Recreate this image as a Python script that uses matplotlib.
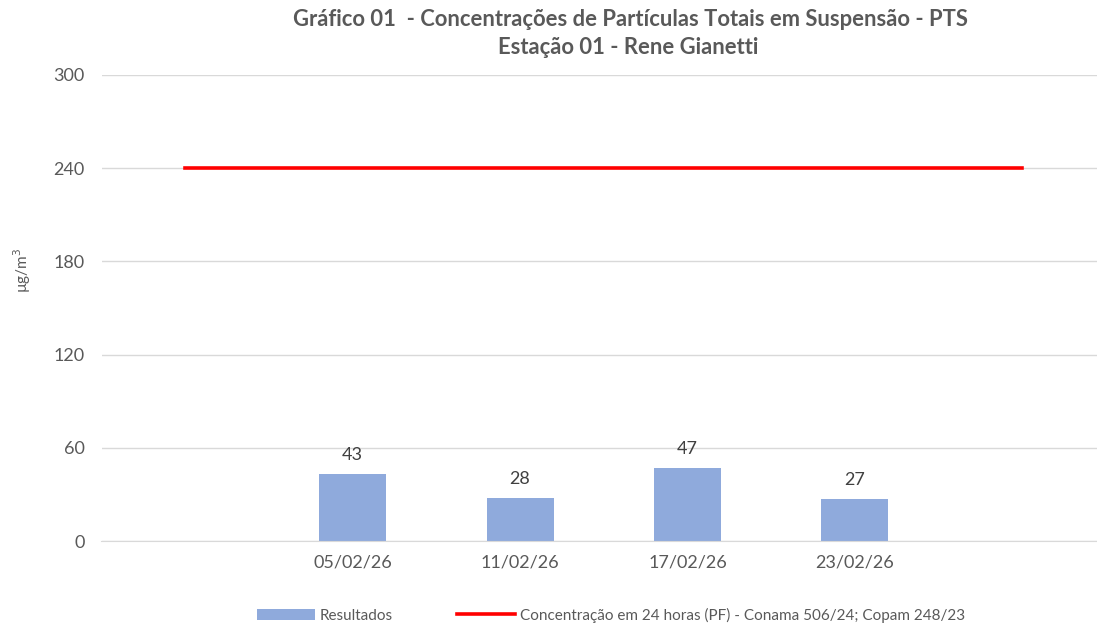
import matplotlib.pyplot as plt
import numpy as np

# data
categories = ['', '05/02/26', '11/02/26', '17/02/26', '23/02/26', '']
resultados = [np.nan, 43, 28, 47, 27, np.nan]
limite = [240, 240, 240, 240, 240, 240]

plt.rcParams['font.family'] = ['Lato', 'DejaVu Sans']
cor_texto = '#595959'

fig = plt.figure(figsize=(10.97, 6.27), dpi=100)
ax = fig.add_axes([101.5/1097, 1-541/627, (1106-101.5)/1097, 466/627])

x = np.arange(len(categories))
bars = ax.bar(x, resultados, width=0.4, color='#8FAADC', label='Resultados', zorder=2)
linha, = ax.plot(x, limite, color='#FF0000', lw=2.6, zorder=3,
                 label='Concentração em 24 horas (PF) - Conama 506/24; Copam 248/23')

for xi, v in zip(x, resultados):
    if not np.isnan(v):
        ax.text(xi, v + 7, f'{v:.0f}', ha='center', va='bottom', fontsize=13, color='#404040')

ax.set_xlim(-0.5, len(categories) - 0.5)
ax.set_ylim(0, 300)
ax.set_yticks([0, 60, 120, 180, 240, 300])
ax.set_xticks(x)
ax.set_xticklabels(categories)
ax.tick_params(length=0, labelsize=13, colors=cor_texto)
ax.tick_params(axis='x', pad=10)
ax.tick_params(axis='y', pad=12)
ax.grid(axis='y', color='#D9D9D9', lw=1, zorder=0)
for s in ['top', 'right', 'left']:
    ax.spines[s].set_visible(False)
ax.spines['bottom'].set_color('#D9D9D9')

fig.text(22/1097, 1-270/627, 'µg/m$^3$', rotation=90, ha='center', va='center',
         fontsize=11, color=cor_texto)

fig.text(630/1097, 1-20/627, 'Gráfico 01  - Concentrações de Partículas Totais em Suspensão - PTS',
         ha='center', va='center', fontsize=15.8, fontweight='bold', color=cor_texto)
fig.text(628/1097, 1-47/627, 'Estação 01 - Rene Gianetti',
         ha='center', va='center', fontsize=15.8, fontweight='bold', color=cor_texto)

leg = fig.legend([bars, linha], [bars.get_label(), linha.get_label()],
                 loc='center', bbox_to_anchor=(611/1097, 1-615/627), ncol=2, frameon=False,
                 fontsize=11, handlelength=3.8, columnspacing=4.2, handletextpad=0.3)
for t in leg.get_texts():
    t.set_color(cor_texto)

fig.savefig('out.png', dpi=100)
